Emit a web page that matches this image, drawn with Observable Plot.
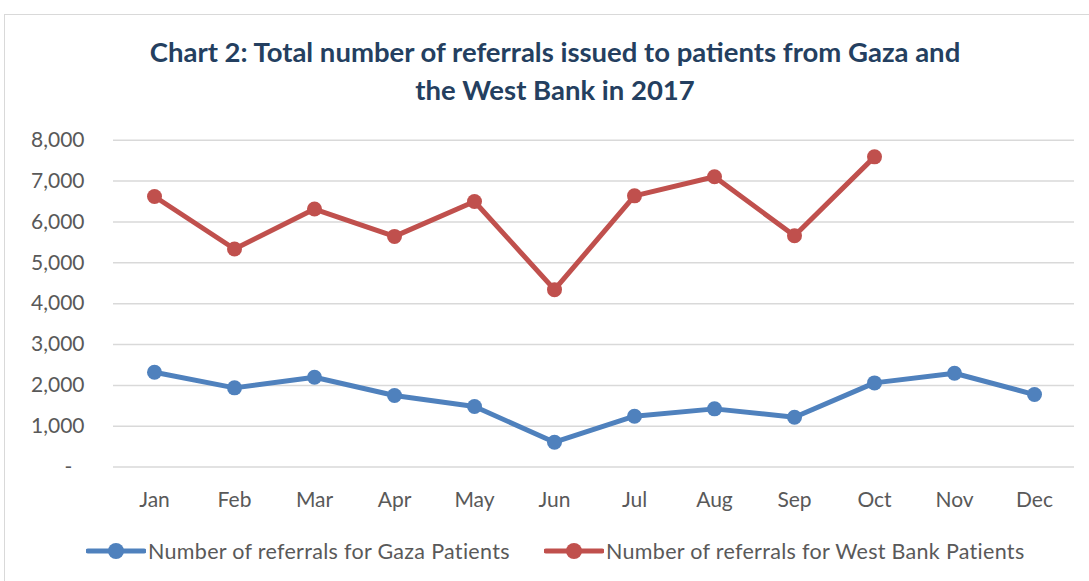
<!DOCTYPE html>
<html><head><meta charset="utf-8">
<script src="https://cdn.jsdelivr.net/npm/d3@7"></script>
<script src="https://cdn.jsdelivr.net/npm/@observablehq/plot@0.6"></script>
<style>
body{margin:0;background:#fff;font-family:Lato,sans-serif;}
#wrap{position:relative;width:1089px;height:581px;overflow:hidden;background:#fff;}
#frame{position:absolute;left:4px;top:14px;width:1200px;height:620px;border:1.5px solid #d9d9d9;}
#title{position:absolute;top:33px;left:0;width:1110px;text-align:center;font-weight:700;font-size:27.5px;line-height:37.5px;color:#243F60;}
#chart{position:absolute;top:120px;left:0;}
.leg{position:absolute;top:538px;height:26px;display:flex;align-items:center;font-size:21.5px;letter-spacing:0.3px;color:#595959;white-space:nowrap;}
.leg svg{margin-right:2px;}
</style>
</head><body>
<div id="wrap">
  <div id="frame"></div>
  <div id="title">Chart 2: Total number of referrals issued to patients from Gaza and<br>the West Bank in 2017</div>
  <div id="chart"></div>
  <div id="legend"></div>
</div>
<script>
const months = ["Jan","Feb","Mar","Apr","May","Jun","Jul","Aug","Sep","Oct","Nov","Dec"];
const gaza = [2320,1939,2198,1751,1482,609,1245,1425,1220,2061,2296,1775];
const westBank = [6623,5337,6315,5646,6501,4342,6638,7105,5662,7592,null,null];
const yTicks = [0,1000,2000,3000,4000,5000,6000,7000,8000];
const seriesNames = ["Number of referrals for Gaza Patients","Number of referrals for West Bank Patients"];
const seriesColors = ["#4F81BD","#C0504D"];

const rows = [];
months.forEach((m,i)=>{
  if (gaza[i] != null) rows.push({month:m, value:gaza[i], series:seriesNames[0]});
  if (westBank[i] != null) rows.push({month:m, value:westBank[i], series:seriesNames[1]});
});

const fmt = d3.format(",");
const plot = Plot.plot({
  width:1089, height:400,
  marginLeft:113, marginRight:15, marginTop:19.7, marginBottom:53.4,
  style:{fontFamily:"Lato, sans-serif", fontSize:"21px", color:"#595959", background:"transparent"},
  x:{type:"point", domain:months, padding:0.5, label:null},
  y:{domain:[0,8000], label:null},
  color:{domain:seriesNames, range:seriesColors},
  marks:[
    Plot.gridY(yTicks, {stroke:"#d9d9d9", strokeOpacity:1, strokeWidth:1.5}),
    Plot.axisY(yTicks, {tickSize:0, tickPadding:29, tickFormat:d=> d===0 ? "-\u2007" : fmt(d), fontSize:21}),
    Plot.axisX({tickSize:0, tickPadding:25, fontSize:21}),
    Plot.line(rows, {x:"month", y:"value", z:"series", stroke:"series", strokeWidth:5, strokeLinejoin:"round", strokeLinecap:"round"}),
    Plot.dot(rows, {x:"month", y:"value", fill:"series", r:7.5, stroke:"none"})
  ]
});
document.getElementById("chart").appendChild(plot);

const legendLeft = [86, 544];
const legend = document.getElementById("legend");
seriesNames.forEach((name,i)=>{
  const div = document.createElement("div");
  div.className = "leg";
  div.style.left = legendLeft[i] + "px";
  div.innerHTML = `<svg width="60" height="20"><line x1="2" y1="10" x2="58" y2="10" stroke="${seriesColors[i]}" stroke-width="5" stroke-linecap="round"/><circle cx="30" cy="10" r="8" fill="${seriesColors[i]}"/></svg><span>${name}</span>`;
  legend.appendChild(div);
});
</script>
</body></html>
